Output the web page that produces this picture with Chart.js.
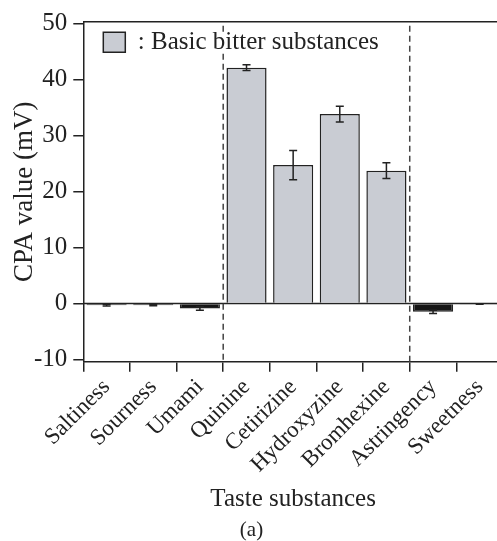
<!DOCTYPE html>
<html><head><meta charset="utf-8">
<script src="https://cdn.jsdelivr.net/npm/chart.js@4"></script>
<style>html,body{margin:0;padding:0;overflow:hidden;background:#fff}#wrap{width:520px;height:541px}</style>
</head><body><div id="wrap"><canvas id="c" width="520" height="541"></canvas></div>
<script>
const categories = ['Saltiness','Sourness','Umami','Quinine','Cetirizine','Hydroxyzine','Bromhexine','Astringency','Sweetness'];
const cpaValues = [-0.3, -0.3, -0.9, 42.1, 24.7, 33.8, 23.7, -1.5, -0.1];
const cpaErrors = [0.15, 0.1, 0.3, 0.5, 2.6, 1.4, 1.4, 0.3, 0.05];
const yTickValues = [-10, 0, 10, 20, 30, 40, 50];
const dividerAfter = [2, 6];
const legendLabel = ': Basic bitter substances';
const xTitle = 'Taste substances';
const yTitle = 'CPA value (mV)';
const caption = '(a)';

const FAM = '"Liberation Serif", "Times New Roman", serif';
const INK = '#222';
const BAR_FILL = '#c9ccd3';
const NEG_FILL = '#151515';

const decor = {
  id: 'decor',
  beforeDatasetsDraw(chart) {
    const {ctx, chartArea: a, scales: {x, y}} = chart;
    ctx.save();
    ctx.strokeStyle = INK; ctx.lineWidth = 1.5;
    const y0 = y.getPixelForValue(0);
    ctx.beginPath(); ctx.moveTo(a.left, y0); ctx.lineTo(a.right, y0); ctx.stroke();
    ctx.beginPath(); ctx.moveTo(a.left, a.top); ctx.lineTo(a.right, a.top); ctx.stroke();
    ctx.setLineDash([6, 4]); ctx.strokeStyle = '#444';
    const lg = chart.legend;
    const hb = lg && lg.legendHitBoxes && lg.legendHitBoxes[0];
    const gap = hb ? { l: lg.left, r: lg.left + 12 + (lg.right - lg.left), t: a.top + 10, b: a.top + 32 } : null;
    dividerAfter.forEach(i => {
      const px = (x.getPixelForValue(i) + x.getPixelForValue(i + 1)) / 2;
      ctx.beginPath();
      if (gap && px > gap.l && px < gap.r && px < lg.left + 8 + hb.width) {
        ctx.moveTo(px, a.top + 4); ctx.lineTo(px, gap.t);
        ctx.moveTo(px, gap.b); ctx.lineTo(px, a.bottom);
      } else {
        ctx.moveTo(px, a.top + 4); ctx.lineTo(px, a.bottom);
      }
      ctx.stroke();
    });
    ctx.restore();
  },
  afterDatasetsDraw(chart) {
    const {ctx, scales: {x, y}} = chart;
    ctx.save();
    ctx.strokeStyle = INK; ctx.lineWidth = 1.5;
    cpaValues.forEach((v, i) => {
      const e = cpaErrors[i];
      const px = x.getPixelForValue(i);
      const t = y.getPixelForValue(v + e), b = y.getPixelForValue(v - e);
      ctx.beginPath();
      ctx.moveTo(px, t); ctx.lineTo(px, b);
      ctx.moveTo(px - 4, t); ctx.lineTo(px + 4, t);
      ctx.moveTo(px - 4, b); ctx.lineTo(px + 4, b);
      ctx.stroke();
    });
    ctx.restore();
  },
  afterLayout(chart) {
    const lg = chart.legend, a = chart.chartArea;
    if (lg && a) {
      const w = lg.right - lg.left, h = lg.bottom - lg.top;
      lg.left = a.left + 12; lg.top = a.top;
      lg.right = lg.left + w; lg.bottom = lg.top + h;
    }
  }
};

new Chart(document.getElementById('c'), {
  type: 'bar',
  data: {
    labels: categories,
    datasets: [{
      label: legendLabel,
      data: cpaValues,
      backgroundColor: cpaValues.map(v => v < 0 ? NEG_FILL : BAR_FILL),
      borderColor: INK,
      borderWidth: 1.5,
      barPercentage: 0.86,
      categoryPercentage: 1.0
    }]
  },
  options: {
    responsive: false,
    devicePixelRatio: 1,
    animation: false,
    layout: { padding: { top: 21.7, right: 17, bottom: 0, left: 0 } },
    plugins: {
      legend: {
        display: true, position: 'chartArea', align: 'start',
        labels: {
          boxWidth: 22, boxHeight: 20, padding: 8, color: INK, font: { family: FAM, size: 25 },
          generateLabels(chart) {
            return Chart.defaults.plugins.legend.labels.generateLabels(chart).map(l => Object.assign(l, { fillStyle: BAR_FILL, strokeStyle: INK, lineWidth: 1.5 }));
          }
        }
      },
      title: {
        display: true, position: 'bottom', text: caption, color: INK,
        font: { family: FAM, size: 21, weight: 'normal', lineHeight: 1 }, padding: 0
      },
      tooltip: { enabled: false }
    },
    scales: {
      x: {
        offset: true,
        grid: { offset: true, drawOnChartArea: false, drawTicks: true, tickLength: 10, color: INK, lineWidth: 1.5 },
        border: { display: true, color: INK, width: 1.5 },
        ticks: { font: { family: FAM, size: 23 }, color: INK, minRotation: 45, maxRotation: 45, autoSkip: false, padding: 2 },
        title: { display: true, text: xTitle, color: INK, font: { family: FAM, size: 25 }, padding: { top: 0, bottom: 6 } },
        afterFit(s) { s.height = 158.3; }
      },
      y: {
        min: -10.4, max: 50.3,
        afterBuildTicks(s) { s.ticks = yTickValues.map(v => ({ value: v })); },
        grid: { drawOnChartArea: false, drawTicks: true, tickLength: 10, color: INK, lineWidth: 1.5 },
        border: { display: true, color: INK, width: 1.5 },
        ticks: { font: { family: FAM, size: 25 }, color: INK, padding: 6 },
        title: { display: true, text: yTitle, color: INK, font: { family: FAM, size: 27 }, padding: { top: 9, bottom: 0 } },
        afterFit(s) { s.width = 83.3; }
      }
    }
  },
  plugins: [decor]
});
</script>
</body></html>
